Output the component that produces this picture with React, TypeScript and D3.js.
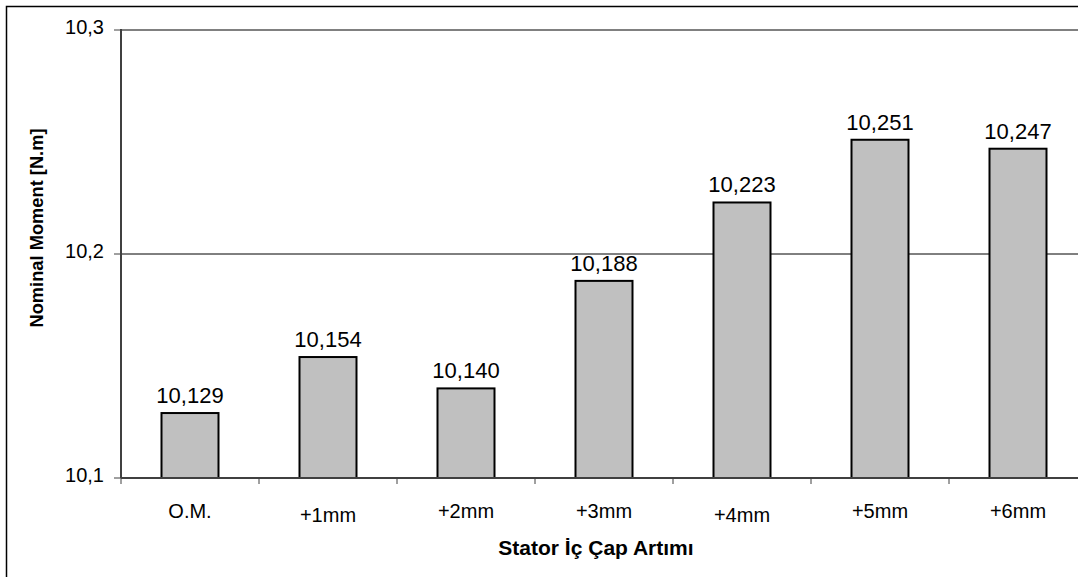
import React from "react";
import * as d3 from "d3";

const categories = ["O.M.", "+1mm", "+2mm", "+3mm", "+4mm", "+5mm", "+6mm"];
const values = [10.129, 10.154, 10.14, 10.188, 10.223, 10.251, 10.247];
const yTicks = [10.1, 10.2, 10.3];
const valueLabels = ["10,129", "10,154", "10,140", "10,188", "10,223", "10,251", "10,247"];
const tickLabels = ["10,1", "10,2", "10,3"];

// layout-only: vertical nudge of category labels as seen in reference
const labelDy = [0, 4, 0, 0, 4, 0, 0];

export default function App() {
  const W = 1078, H = 577;
  const left = 121, right = 1087, top = 30, bottom = 478;
  const x = d3.scaleBand<string>().domain(categories).range([left, right]).paddingInner(0.587).paddingOuter(0.2935);
  const y = d3.scaleLinear().domain([10.1, 10.3]).range([bottom, top]);
  const step = (right - left) / categories.length;
  const font = "Arial, 'Liberation Sans', sans-serif";
  return (
    <svg width={W} height={H} style={{ position: "absolute", left: 0, top: 0, background: "#fff" }}>
      <rect x={6.5} y={6.5} width={1200} height={700} fill="#fff" stroke="#000" strokeWidth={1.5} />
      {/* gridline */}
      <line x1={left} x2={right} y1={y(10.2)} y2={y(10.2)} stroke="#000" strokeWidth={1} />
      <line x1={left} x2={right} y1={y(10.3)} y2={y(10.3)} stroke="#808080" strokeWidth={2} />
      {/* bars */}
      {values.map((v, i) => (
        <rect key={i} x={x(categories[i])!} y={y(v)} width={x.bandwidth()} height={bottom - y(v)}
          fill="#c0c0c0" stroke="#000" strokeWidth={2} />
      ))}
      {values.map((v, i) => (
        <text key={i} x={x(categories[i])! + x.bandwidth() / 2} y={y(v) - 10} textAnchor="middle"
          fontFamily={font} fontSize={22} fill="#000">{valueLabels[i]}</text>
      ))}
      {/* axes */}
      <line x1={left} x2={left} y1={top - 1} y2={bottom} stroke="#404040" strokeWidth={2} />
      <line x1={left} x2={right} y1={bottom} y2={bottom} stroke="#404040" strokeWidth={2} />
      {yTicks.map((t, i) => (
        <g key={i}>
          <line x1={left - 7} x2={left} y1={y(t)} y2={y(t)} stroke="#404040" strokeWidth={1} />
          <text x={left - 17} y={y(t) + 4} textAnchor="end" fontFamily={font} fontSize={20} fill="#000">{tickLabels[i]}</text>
        </g>
      ))}
      {categories.map((c, i) => (
        <line key={i} x1={left + step * i} x2={left + step * i} y1={bottom} y2={bottom + 6} stroke="#404040" strokeWidth={1} />
      ))}
      {categories.map((c, i) => (
        <text key={i} x={x(c)! + x.bandwidth() / 2} y={518 + labelDy[i]} textAnchor="middle"
          fontFamily={font} fontSize={20} fill="#000">{c}</text>
      ))}
      <text x={596} y={555} textAnchor="middle" fontFamily={font} fontSize={21} fontWeight="bold" fill="#000">Stator İç Çap Artımı</text>
      <text transform={`translate(43,228) rotate(-90)`} textAnchor="middle" fontFamily={font} fontSize={18.3} fontWeight="bold" fill="#000">Nominal Moment [N.m]</text>
    </svg>
  );
}
